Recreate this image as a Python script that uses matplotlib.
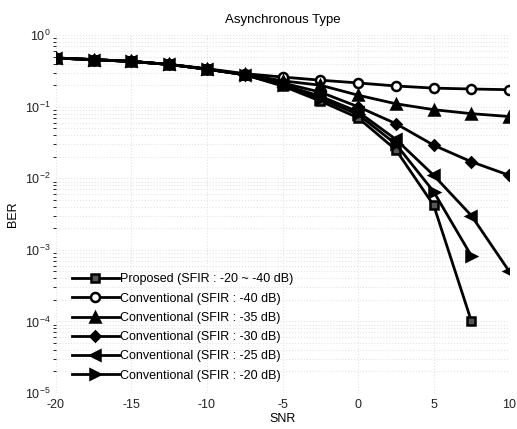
import matplotlib
matplotlib.use('Agg')
import matplotlib.pyplot as plt

plt.rcParams['font.family'] = ['Liberation Sans', 'DejaVu Sans']
plt.rcParams['axes.unicode_minus'] = False

# SNR axis (dB)
snr = [-20, -17.5, -15, -12.5, -10, -7.5, -5, -2.5, 0, 2.5, 5, 7.5, 10]
snr_prop = snr[:-1]  # proposed curve stops at 7.5 dB
snr_m20 = snr[:-1]   # -20 dB curve stops at 7.5 dB

# BER values
ber_prop = [0.48, 0.455, 0.43, 0.39, 0.335, 0.28, 0.195, 0.12, 0.07, 0.025, 0.0042, 0.0001]
ber_m40 = [0.48, 0.455, 0.43, 0.39, 0.34, 0.29, 0.26, 0.235, 0.215, 0.195, 0.182, 0.177, 0.173]
ber_m35 = [0.48, 0.455, 0.43, 0.39, 0.335, 0.285, 0.23, 0.2, 0.145, 0.11, 0.091, 0.08, 0.073]
ber_m30 = [0.48, 0.455, 0.43, 0.39, 0.335, 0.28, 0.215, 0.16, 0.1, 0.058, 0.029, 0.017, 0.011]
ber_m25 = [0.48, 0.455, 0.43, 0.39, 0.335, 0.28, 0.205, 0.14, 0.085, 0.035, 0.011, 0.003, 0.0005]
ber_m20 = [0.48, 0.455, 0.43, 0.39, 0.335, 0.28, 0.2, 0.13, 0.078, 0.03, 0.0065, 0.00082]

labels = ['Proposed (SFIR : -20 ~ -40 dB)',
          'Conventional (SFIR : -40 dB)',
          'Conventional (SFIR : -35 dB)',
          'Conventional (SFIR : -30 dB)',
          'Conventional (SFIR : -25 dB)',
          'Conventional (SFIR : -20 dB)']

fig = plt.figure(figsize=(5.17, 4.29), dpi=100)
ax = fig.add_axes([0.108, 0.084, 0.877, 0.834])

kw = dict(color='black', linewidth=2, markersize=6.5, markeredgewidth=1.8)
ax.plot(snr_prop, ber_prop, marker='s', markerfacecolor='#555555', label=labels[0], **{**kw, 'markersize': 5.5})
ax.plot(snr, ber_m40, marker='o', markerfacecolor='white', label=labels[1], **kw)
ax.plot(snr, ber_m35, marker='^', label=labels[2], **kw)
ax.plot(snr, ber_m30, marker='D', label=labels[3], **{**kw, 'markersize': 5.5})
ax.plot(snr, ber_m25, marker='<', label=labels[4], **kw)
ax.plot(snr_m20, ber_m20, marker='>', label=labels[5], **kw)

ax.set_yscale('log')
ax.set_xlim(-20, 10)
ax.set_ylim(1e-5, 1)
ax.set_xticks([-20, -15, -10, -5, 0, 5, 10])
ax.grid(True, which='both', color='#e4e4e4', linestyle=':', linewidth=0.8)
for s in ax.spines.values():
    s.set_visible(False)
ax.tick_params(length=0, labelsize=9, colors='#222222', pad=4)

ax.set_title('Asynchronous Type', fontsize=9.5, pad=9)
ax.set_xlabel('SNR', fontsize=9, labelpad=2)
ax.set_ylabel('BER', fontsize=9, labelpad=4)

ax.legend(loc='lower left', bbox_to_anchor=(0.01, 0.0), frameon=False,
          fontsize=9, handlelength=3.8, handletextpad=0.05, labelspacing=0.58)

fig.savefig('out.png', dpi=100)
